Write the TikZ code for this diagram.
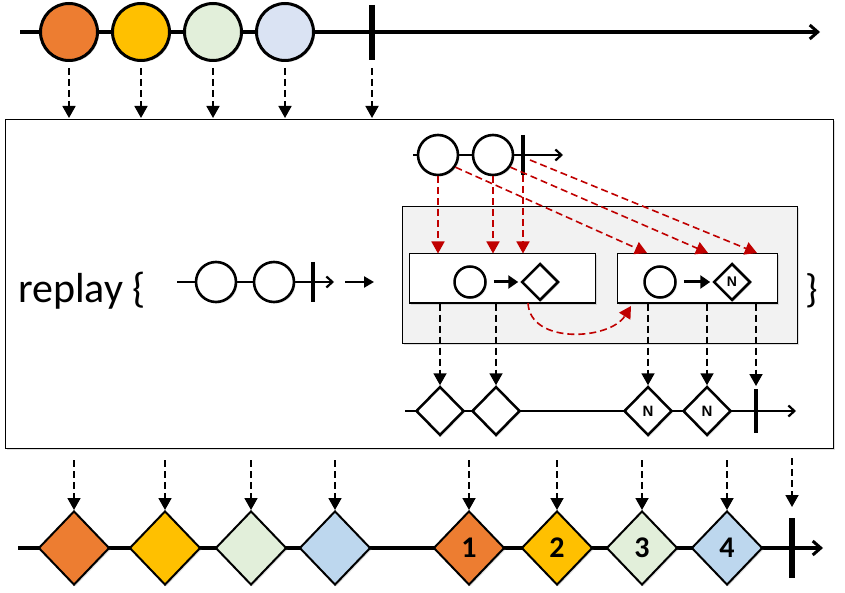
\documentclass[tikz,border=0pt]{standalone}
\usepackage{fontspec}
\setmainfont{Carlito}
\setsansfont{Liberation Sans}
\usetikzlibrary{arrows.meta,shapes.geometric,shadows}
\definecolor{corange}{HTML}{ED7D31}
\definecolor{cgold}{HTML}{FFC000}
\definecolor{cgreen}{HTML}{E2EFDA}
\definecolor{cblue}{HTML}{DAE3F3}
\definecolor{cblued}{HTML}{BDD7EE}
\definecolor{cred}{HTML}{C00000}
\definecolor{cgray}{HTML}{F2F2F2}
\begin{document}
\begin{tikzpicture}[x=1pt,y=-1pt,
  shd/.style={drop shadow={shadow xshift=1.5pt,shadow yshift=-1.5pt,opacity=0.25}},
  strm/.style={line width=3.5pt,-{Straight Barb[length=8pt,width=14pt,line width=3pt]}},
  sstrm/.style={line width=2.5pt,-{Straight Barb[length=6pt,width=11pt,line width=2.2pt]}},
  bigmarble/.style={circle,draw,line width=3pt,minimum size=57pt,inner sep=0pt,shd},
  smallmarble/.style={circle,draw,line width=2.6pt,minimum size=40pt,inner sep=0pt,fill=white,shd},
  tinymarble/.style={circle,draw,line width=2.5pt,minimum size=31pt,inner sep=0pt,fill=white,shd},
  bigdia/.style={diamond,draw,line width=2pt,minimum width=71pt,minimum height=74pt,inner sep=0pt,shd,
    font=\fontsize{30}{30}\selectfont\bfseries},
  middia/.style={diamond,draw,line width=2.5pt,minimum width=48pt,minimum height=49pt,inner sep=0pt,fill=white,shd,
    font=\sffamily\fontsize{15}{15}\selectfont\bfseries},
  tinydia/.style={diamond,draw,line width=2.5pt,minimum width=37pt,minimum height=37pt,inner sep=0pt,fill=white,shd,
    font=\sffamily\fontsize{14}{14}\selectfont\bfseries},
  emit/.style={line width=1.8pt,dash pattern=on 7pt off 4pt,-{Triangle[length=12pt,width=13pt]}},
  remit/.style={emit,draw=cred,line width=1.6pt},
  tickmark/.style={line width=5.5pt},
  panel/.style={draw,line width=1pt,shd},
]
\useasboundingbox (0,0) rectangle (845,593);

% ---------- top stream ----------
\coordinate (topS) at (20,32);
\coordinate (topE) at (820,32);
\draw[strm] (topS) -- (topE);
\node[bigmarble,fill=corange] (t1) at (69,32) {};
\node[bigmarble,fill=cgold] (t2) at (141,32) {};
\node[bigmarble,fill=cgreen] (t3) at (213,32) {};
\node[bigmarble,fill=cblue] (t4) at (285,32) {};
\coordinate (tk1) at (372,5);
\coordinate (tk2) at (372,60);
\draw[tickmark] (tk1) -- (tk2);

% ---------- main box ----------
\node[panel,fill=white,minimum width=828pt,minimum height=328pt,inner sep=0pt] (main) at (419,284) {};

\foreach \n/\x in {1/69,2/141,3/213,4/285,5/372}{
  \coordinate (ta\n) at (\x,68);
  \coordinate (tb\n) at (\x,118);
  \draw[emit] (ta\n) -- (tb\n);
}

% replay text and left stream
\node[anchor=base west,inner sep=0pt,font=\fontsize{42}{42}\selectfont] (rtxt) at (18,302) {replay \{};
\coordinate (lsS) at (177,282);
\coordinate (lsE) at (334,282);
\draw[sstrm] (lsS) -- (lsE);
\node[smallmarble] (l1) at (216,282) {};
\node[smallmarble] (l2) at (274,282) {};
\coordinate (ltk1) at (313,262);
\coordinate (ltk2) at (313,302);
\draw[line width=4.5pt] (ltk1) -- (ltk2);
\coordinate (la1) at (345,282);
\coordinate (la2) at (374,282);
\draw[line width=2.5pt,-{Triangle[length=10pt,width=11pt]}] (la1) -- (la2);

% closing brace
\node[font=\fontsize{40}{40}\selectfont,inner sep=0pt,anchor=base] (brace) at (812,302) {\}};

% inner top stream
\coordinate (isS) at (413,155);
\coordinate (isE) at (563,155);
\draw[sstrm] (isS) -- (isE);
\node[smallmarble] (ic1) at (438,155) {};
\node[smallmarble] (ic2) at (493,155) {};
\coordinate (itk1) at (523,135);
\coordinate (itk2) at (523,175);
\draw[line width=4.5pt] (itk1) -- (itk2);

% gray box and sub boxes
\node[panel,fill=cgray,minimum width=395pt,minimum height=136pt,inner sep=0pt] (gbox) at (599.5,275) {};
\node[panel,fill=white,minimum width=186pt,minimum height=49pt,inner sep=0pt] (box1) at (502,278.5) {};
\node[panel,fill=white,minimum width=160pt,minimum height=49pt,inner sep=0pt] (box2) at (697,278.5) {};

\node[tinymarble] (b1c) at (470,282) {};
\node[tinydia] (b1d) at (540,282) {};
\draw[line width=3pt,-{Triangle[length=10pt,width=13pt]}] (b1c.east) ++(7,0) coordinate (b1a) -- ([xshift=-2pt]b1d.west);
\node[tinymarble] (b2c) at (660,282) {};
\node[tinydia] (b2d) at (732,282) {N};
\draw[line width=3pt,-{Triangle[length=10pt,width=13pt]}] (b2c.east) ++(7,0) coordinate (b2a) -- ([xshift=-2pt]b2d.west);

% red arrows
\draw[remit] (ic1.south) -- (ic1.south |- box1.north);
\draw[remit] (ic2.south) -- (ic2.south |- box1.north);
\draw[remit] (itk2) -- (itk2 |- box1.north);
\coordinate (rd1) at (647,253);
\coordinate (rd2) at (708,253);
\coordinate (rd3) at (757,253);
\draw[remit] (ic1.-35) -- (rd1);
\draw[remit] (ic2.-35) -- (rd2);
\coordinate (rs3) at (530,160);
\draw[remit] (rs3) -- (rd3);
\coordinate (cv1) at (528,303);
\coordinate (cv2) at (631,306);
\draw[remit] (cv1) .. controls (530,345) and (610,340) .. (cv2);

% inner bottom stream
\coordinate (ibS) at (405,411);
\coordinate (ibE) at (796,411);
\draw[sstrm] (ibS) -- (ibE);
\node[middia] (o1) at (440,411) {};
\node[middia] (o2) at (496,411) {};
\node[middia] (o3) at (648,411) {N};
\node[middia] (o4) at (707,411) {N};
\coordinate (otk1) at (756,389);
\coordinate (otk2) at (756,433);
\draw[line width=4.5pt] (otk1) -- (otk2);

\draw[emit] (o1.north |- box1.south) -- (o1.north);
\draw[emit] (o2.north |- box1.south) -- (o2.north);
\draw[emit] (o3.north |- box2.south) -- (o3.north);
\draw[emit] (o4.north |- box2.south) -- (o4.north);
\coordinate (otkT) at (756,386);
\draw[emit] (otkT |- box2.south) -- (otkT);

% ---------- bottom stream ----------
\coordinate (botS) at (18,548);
\coordinate (botE) at (823,548);
\draw[strm] (botS) -- (botE);
\node[bigdia,fill=corange] (d1) at (74,548) {};
\node[bigdia,fill=cgold] (d2) at (165,548) {};
\node[bigdia,fill=cgreen] (d3) at (251,548) {};
\node[bigdia,fill=cblued] (d4) at (335,548) {};
\node[bigdia,fill=corange] (d5) at (469,548) {1};
\node[bigdia,fill=cgold] (d6) at (557,548) {2};
\node[bigdia,fill=cgreen] (d7) at (642,548) {3};
\node[bigdia,fill=cblued] (d8) at (727,548) {4};
\coordinate (btk1) at (792,518);
\coordinate (btk2) at (792,578);
\draw[tickmark] (btk1) -- (btk2);

\foreach \n in {1,...,8}{
  \coordinate (bs\n) at ([yshift=50pt]d\n.north);
  \draw[emit] (bs\n) -- (d\n.north);
}
\coordinate (bst) at (792,458);
\coordinate (bet) at (792,507);
\draw[emit] (bst) -- (bet);
\end{tikzpicture}
\end{document}
